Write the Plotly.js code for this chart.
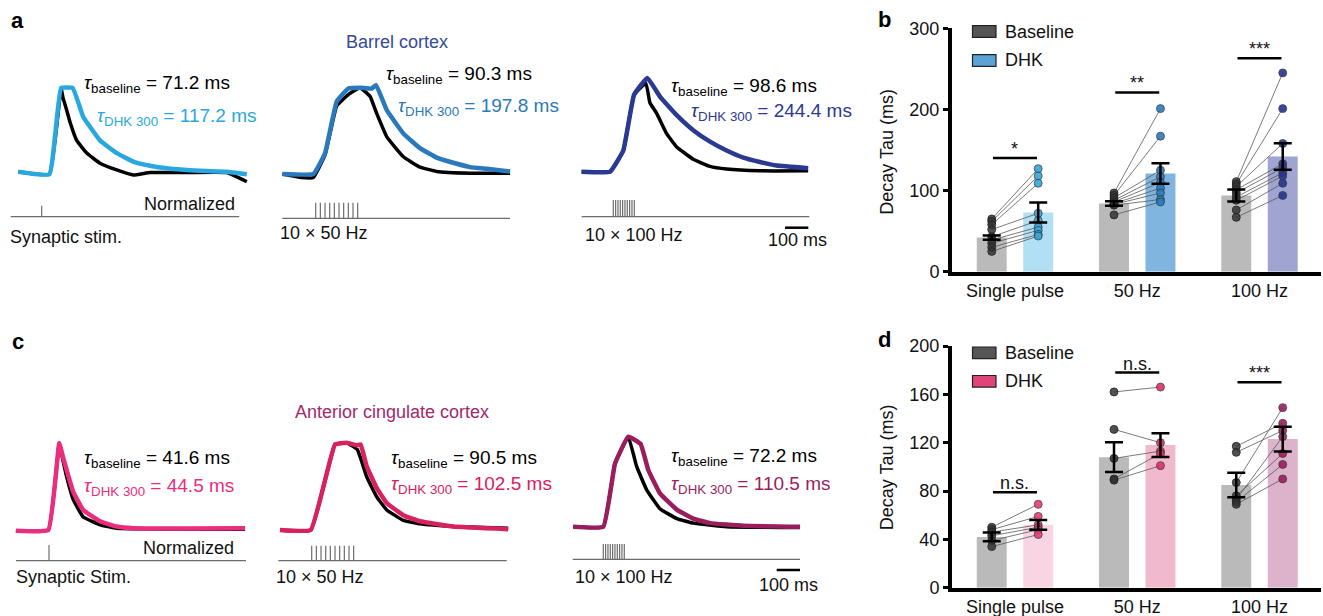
<!DOCTYPE html>
<html>
<head>
<meta charset="utf-8">
<script src="https://cdn.plot.ly/plotly-3.0.1.min.js"></script>
<style>html,body{margin:0;padding:0;background:#fff;}#chart{width:1323px;height:616px;}</style>
</head>
<body>
<div id="chart"></div>
<script>
// ---------------- DATA ----------------
// Panel a (barrel cortex) normalized traces: time (ms from first stimulus), normalized amplitude
const a1BaseT = [-100, 33, 83, 91, 107, 121, 150, 193, 250, 322, 393, 465, 593, 794, 880];
const a1BaseV = [0.01, -0.02, 1.0, 0.89, 0.74, 0.60, 0.38, 0.23, 0.11, 0.03, -0.03, 0, 0, 0, -0.11];
const a1DhkT  = [-100, 33, 83, 133, 178, 250, 322, 393, 465, 536, 679, 794, 880];
const a1DhkV  = [0.01, -0.02, 1.0, 1.0, 0.66, 0.38, 0.23, 0.13, 0.08, 0.05, 0.02, 0.01, -0.02];
const a2BaseT = [-143, -60, -10, 40, 90, 140, 190, 233, 262, 305, 376, 447, 519, 662, 834];
const a2BaseV = [0, -0.04, -0.04, 0.22, 0.79, 0.92, 1.0, 0.9, 0.70, 0.43, 0.20, 0.08, 0.03, 0.01, 0.01];
const a2DhkT  = [-143, -10, 40, 90, 140, 190, 240, 259, 305, 376, 447, 519, 590, 662, 734, 834];
const a2DhkV  = [0, 0, 0.24, 0.84, 0.99, 1.0, 0.99, 1.03, 0.74, 0.47, 0.30, 0.19, 0.13, 0.08, 0.06, 0.03];
const a3BaseT = [-136, -14, 43, 89, 140, 157, 186, 229, 272, 343, 415, 486, 629, 836];
const a3BaseV = [0, 0, 0.24, 0.87, 1.0, 0.78, 0.66, 0.43, 0.28, 0.14, 0.06, 0.03, 0.01, 0.01];
const a3DhkT  = [-136, -14, 43, 89, 146, 200, 272, 343, 415, 486, 558, 629, 701, 836];
const a3DhkV  = [0, 0, 0.24, 0.87, 1.06, 0.85, 0.64, 0.47, 0.34, 0.24, 0.16, 0.11, 0.07, 0.04];
// Panel c (anterior cingulate cortex)
const c1BaseT = [-142, -3, 44, 60, 76, 104, 147, 219, 290, 841];
const c1BaseV = [-0.01, 0, 1.0, 0.80, 0.61, 0.35, 0.15, 0.06, 0.02, 0.01];
const c1DhkT  = [-142, -3, 44, 60, 76, 104, 147, 219, 290, 362, 841];
const c1DhkV  = [-0.01, 0, 1.0, 0.84, 0.69, 0.44, 0.23, 0.10, 0.04, 0.02, 0.02];
const c2BaseT = [-136, -4, 100, 150, 196, 236, 279, 322, 393, 465, 607, 843];
const c2BaseV = [0, 0, 0.98, 1.0, 0.92, 0.61, 0.38, 0.23, 0.11, 0.07, 0.04, 0.02];
const c2DhkT  = [-136, -4, 100, 150, 193, 210, 236, 279, 322, 393, 465, 607, 843];
const c2DhkV  = [0, 0, 0.98, 1.0, 0.97, 0.98, 0.73, 0.48, 0.31, 0.17, 0.10, 0.04, 0.01];
const c3BaseT = [-129, 0, 50, 107, 143, 186, 243, 315, 386, 529, 844];
const c3BaseV = [0, 0, 0.70, 1.0, 0.67, 0.41, 0.20, 0.09, 0.04, 0, -0.01];
const c3DhkT  = [-129, 0, 50, 107, 160, 193, 243, 315, 386, 458, 601, 844];
const c3DhkV  = [0, 0, 0.70, 1.0, 0.92, 0.63, 0.37, 0.19, 0.09, 0.04, 0.01, 0];

// Stimulus times (ms)
const stimSingle = [0];
const stim50Hz  = [0, 20, 40, 60, 80, 100, 120, 140, 160, 180];
const stim100Hz = [0, 10, 20, 30, 40, 50, 60, 70, 80, 90];
const scaleBarMs = 100;

// Tau labels
const tauBaseBarrel = [71.2, 90.3, 98.6];
const tauDhkBarrel  = [117.2, 197.8, 244.4];
const tauBaseACC    = [41.6, 90.5, 72.2];
const tauDhkACC     = [44.5, 102.5, 110.5];
const stimLabelsA = ['Synaptic stim.', '10 × 50 Hz', '10 × 100 Hz'];
const stimLabelsC = ['Synaptic Stim.', '10 × 50 Hz', '10 × 100 Hz'];

// Bar panels
const categories = ['Single pulse', '50 Hz', '100 Hz'];
const seriesNames = ['Baseline', 'DHK'];
// panel b
const bBaseMean = [42, 84, 94];
const bBaseSem  = [2.5, 2.7, 7.4];
const bDhkMean  = [73, 121, 142];
const bDhkSem   = [12.3, 12.7, 16.2];
const bBasePts = [[65, 62, 58, 52, 43, 39, 35, 30, 25], [97, 94, 91, 88, 86, 84, 83, 82, 70], [111, 108, 105, 101, 97, 92, 88, 76, 67]];
const bDhkPts  = [[127, 118, 109, 72, 63, 55, 51, 46, 44], [201, 167, 125, 117, 110, 103, 97, 89, 86], [245, 201, 158, 133, 128, 122, 118, 109, 94]];
const bSigLevel = [140, 221, 263];
const bSigText  = ['*', '**', '***'];
// panel d
const dBaseMean = [42, 108, 85];
const dBaseSem  = [3.6, 12.3, 10.2];
const dDhkMean  = [52, 118, 123];
const dDhkSem   = [4.0, 9.8, 10.2];
const dBasePts = [[50, 48, 46, 43, 39, 34], [162, 131, 107, 90, 89], [117, 112, 87, 76, 73, 71, 69]];
const dDhkPts  = [[69, 59, 52, 50, 48, 44], [166, 120, 113, 111, 101], [136, 130, 149, 111, 125, 102, 90]];
const dSigLevel = [79, 178, 170];
const dSigText  = ['n.s.', 'n.s.', '***'];

// ---------------- LAYOUT HELPERS ----------------
const W = 1323, H = 616;
const PX = x => x / W;
const PY = y => 1 - y / H;
const MS_PER_PX = 4.29;
const FONT = 'Liberation Sans, Arial, Helvetica, sans-serif';
const FS = 18;

const barrelCol = ['#29a8e0', '#2a79bd', '#2c3990'];
const accCol    = ['#ec2c7c', '#d8215f', '#9a1e5d'];

const traceSP = [
  {k:1, x0:8,   x1:250, onset:41.7,  base:172.5, amp:84.5, top:50,  bot:250, stimX0:10.7,  stimX1:239.3, stimY:216.7, tickTop:205.7, stim:stimSingle, bt:a1BaseT, bv:a1BaseV, dt:a1DhkT, dv:a1DhkV, col:barrelCol[0]},
  {k:2, x0:278, x1:515, onset:315.7, base:174,   amp:86.3, top:50,  bot:250, stimX0:282.3, stimX1:510,   stimY:218.3, tickTop:202.7, stim:stim50Hz,  bt:a2BaseT, bv:a2BaseV, dt:a2DhkT, dv:a2DhkV, col:barrelCol[1]},
  {k:3, x0:578, x1:812, onset:613.3, base:171.7, amp:88.4, top:50,  bot:250, stimX0:581.7, stimX1:809.3, stimY:216.7, tickTop:200,   stim:stim100Hz, bt:a3BaseT, bv:a3BaseV, dt:a3DhkT, dv:a3DhkV, col:barrelCol[2], scale:{x:785, y:227.7}},
  {k:4, x0:12,  x1:250, onset:49,    base:530,   amp:86.7, top:400, bot:600, stimX0:16,    stimX1:246,   stimY:560.7, tickTop:545,   stim:stimSingle, bt:c1BaseT, bv:c1BaseV, dt:c1DhkT, dv:c1DhkV, col:accCol[0]},
  {k:5, x0:275, x1:512, onset:311.7, base:530,   amp:87.3, top:400, bot:600, stimX0:278.3, stimX1:506.7, stimY:560.7, tickTop:545.7, stim:stim50Hz,  bt:c2BaseT, bv:c2BaseV, dt:c2DhkT, dv:c2DhkV, col:accCol[1]},
  {k:6, x0:570, x1:804, onset:603.3, base:526.7, amp:90,   top:400, bot:600, stimX0:572.7, stimX1:800,   stimY:559.3, tickTop:544,   stim:stim100Hz, bt:c3BaseT, bv:c3BaseV, dt:c3DhkT, dv:c3DhkV, col:accCol[2], scale:{x:776.7, y:570}},
];

const data = [];
const layout = {
  width: W, height: H, margin: {l:0, r:0, t:0, b:0},
  paper_bgcolor: '#fff', plot_bgcolor: 'rgba(0,0,0,0)',
  showlegend: false, font: {family: FONT, size: FS, color: '#111'},
  annotations: [], shapes: []
};

traceSP.forEach(sp => {
  const xa = 'x' + sp.k, ya = 'y' + sp.k;
  const toMs = px => (px - sp.onset) * MS_PER_PX;
  const toV = py => (sp.base - py) / sp.amp;
  layout['xaxis' + sp.k] = {domain: [PX(sp.x0), PX(sp.x1)], range: [toMs(sp.x0), toMs(sp.x1)], visible: false, fixedrange: true, anchor: ya};
  layout['yaxis' + sp.k] = {domain: [PY(sp.bot), PY(sp.top)], range: [toV(sp.bot), toV(sp.top)], visible: false, fixedrange: true, anchor: xa};
  // stim line + ticks
  const sx = [toMs(sp.stimX0), toMs(sp.stimX1), null], sy = [toV(sp.stimY), toV(sp.stimY), null];
  sp.stim.forEach(t => { sx.push(t, t, null); sy.push(toV(sp.stimY), toV(sp.tickTop), null); });
  data.push({x: sx, y: sy, xaxis: xa, yaxis: ya, mode: 'lines', line: {color: '#6d6d6d', width: 1.2}, hoverinfo: 'skip'});
  data.push({x: sp.bt, y: sp.bv, xaxis: xa, yaxis: ya, mode: 'lines', line: {color: '#000', width: 3.5, shape: 'spline', smoothing: 0.3}, hoverinfo: 'skip'});
  data.push({x: sp.dt, y: sp.dv, xaxis: xa, yaxis: ya, mode: 'lines', line: {color: sp.col, width: 4.5, shape: 'spline', smoothing: 0.3}, hoverinfo: 'skip'});
  if (sp.scale) {
    const s0 = toMs(sp.scale.x);
    data.push({x: [s0, s0 + scaleBarMs], y: [toV(sp.scale.y), toV(sp.scale.y)], xaxis: xa, yaxis: ya, mode: 'lines', line: {color: '#000', width: 2.5}, hoverinfo: 'skip'});
  }
});

function ann(text, x, y, o) {
  o = o || {};
  layout.annotations.push(Object.assign({
    text: text, x: PX(x), y: PY(y), xref: 'paper', yref: 'paper', showarrow: false,
    xanchor: 'left', yanchor: 'middle', font: {family: FONT, size: FS, color: '#111'}
  }, o));
}
const tau = '<i>τ</i>';

// panel letters
ann('<b>a</b>', 9, 21, {font: {family: FONT, size: 22, color: '#000'}});
ann('<b>b</b>', 876, 20, {font: {family: FONT, size: 22, color: '#000'}});
ann('<b>c</b>', 10, 341, {font: {family: FONT, size: 22, color: '#000'}});
ann('<b>d</b>', 876, 339, {font: {family: FONT, size: 22, color: '#000'}});

ann('Barrel cortex', 396.7, 41.7, {xanchor: 'center', font: {family: FONT, size: 18, color: '#34499c'}});
ann('Anterior cingulate cortex', 391.7, 411.7, {xanchor: 'center', font: {family: FONT, size: 18, color: '#a3286c'}});

// tau labels
const TS = 19;
const tauPosA = [[82, 82, 95, 115], [384, 73, 395.7, 105], [669, 85, 689, 110]];
const tauPosC = [[82.3, 456.7, 82.3, 485], [389, 456.7, 389, 483.3], [669, 455, 669, 483.3]];
tauPosA.forEach((p, i) => {
  ann(tau + '<sub>baseline</sub> = ' + tauBaseBarrel[i].toFixed(1) + ' ms', p[0], p[1] + 2, {font: {family: FONT, size: TS, color: '#000'}});
  ann(tau + '<sub>DHK 300</sub> = ' + tauDhkBarrel[i].toFixed(1) + ' ms', p[2], p[3] + 2, {font: {family: FONT, size: TS, color: barrelCol[i]}});
});
tauPosC.forEach((p, i) => {
  ann(tau + '<sub>baseline</sub> = ' + tauBaseACC[i].toFixed(1) + ' ms', p[0], p[1] + 2, {font: {family: FONT, size: TS, color: '#000'}});
  ann(tau + '<sub>DHK 300</sub> = ' + tauDhkACC[i].toFixed(1) + ' ms', p[2], p[3] + 2, {font: {family: FONT, size: TS, color: accCol[i]}});
});

// stim labels
const stimLabPosA = [[8, 237], [278, 233], [583, 235]];
const stimLabPosC = [[14, 577], [274, 577], [573, 577]];
stimLabPosA.forEach((p, i) => ann(stimLabelsA[i], p[0], p[1], {font: {family: FONT, size: FS, color: '#111'}}));
stimLabPosC.forEach((p, i) => ann(stimLabelsC[i], p[0], p[1], {font: {family: FONT, size: FS, color: '#111'}}));
ann('Normalized', 237, 204, {xanchor: 'right', font: {family: FONT, size: FS, color: '#111'}});
ann('Normalized', 236, 548, {xanchor: 'right', font: {family: FONT, size: FS, color: '#111'}});
ann(scaleBarMs + ' ms', 797.5, 240, {xanchor: 'center', font: {family: FONT, size: FS, color: '#111'}});
ann(scaleBarMs + ' ms', 788, 585, {xanchor: 'center', font: {family: FONT, size: FS, color: '#111'}});

// ---------------- BAR PANELS ----------------
const GROUP_OFF = 0.19, BAR_W = 0.245;
const barSP = [
  {k:7, top:28.3, bot:271.7, ymax:300, tick:[0,100,200,300], baseMean:bBaseMean, baseSem:bBaseSem, dhkMean:bDhkMean, dhkSem:bDhkSem, basePts:bBasePts, dhkPts:bDhkPts, sig:bSigLevel, sigText:bSigText,
   dhkBar:['#b1dff4', '#7fb5de', '#9fa4d0'], dhkDot:['#36a6dd', '#2a7cc0', '#27348f'], legendCol:'#5aa3d6', legY:[31.5, 60.5], titleY:151.7},
  {k:8, top:346, bot:587.7, ymax:200, tick:[0,40,80,120,160,200], baseMean:dBaseMean, baseSem:dBaseSem, dhkMean:dDhkMean, dhkSem:dDhkSem, basePts:dBasePts, dhkPts:dDhkPts, sig:dSigLevel, sigText:dSigText,
   dhkBar:['#f9d5e4', '#f1b9cd', '#dcb3cb'], dhkDot:['#e93a79', '#e02f6b', '#9d1c60'], legendCol:'#e0457a', legY:[352.8, 381.3], titleY:467.3},
];
barSP.forEach(bp => {
  const xa = 'x' + bp.k, ya = 'y' + bp.k;
  layout['xaxis' + bp.k] = {domain: [PX(952), PX(1321)], range: [-0.515, 2.503], anchor: ya, fixedrange: true,
    tickvals: [0, 1, 2], ticktext: categories, ticks: '', showline: true, linewidth: 4, linecolor: '#000',
    showgrid: false, zeroline: false, tickfont: {family: FONT, size: FS, color: '#111'}};
  layout['yaxis' + bp.k] = {domain: [PY(bp.bot), PY(bp.top)], range: [0, bp.ymax], anchor: xa, fixedrange: true,
    tickvals: bp.tick, ticks: 'outside', ticklen: 5, tickwidth: 3, tickcolor: '#000', showline: true, linewidth: 4, linecolor: '#000',
    showgrid: false, zeroline: false, tickfont: {family: FONT, size: FS, color: '#111'}};
  const idx = categories.map((c, i) => i);
  data.push({type: 'bar', x: idx.map(i => i - GROUP_OFF), y: bp.baseMean, width: BAR_W, xaxis: xa, yaxis: ya, name: seriesNames[0],
    textposition: 'none', marker: {color: '#bababa', line: {width: 0}}, hoverinfo: 'skip'});
  data.push({type: 'bar', x: idx.map(i => i + GROUP_OFF), y: bp.dhkMean, width: BAR_W, xaxis: xa, yaxis: ya, name: seriesNames[1],
    textposition: 'none', marker: {color: bp.dhkBar, line: {width: 0}}, hoverinfo: 'skip'});
  // paired lines
  const lx = [], ly = [];
  idx.forEach(i => bp.basePts[i].forEach((v, j) => { lx.push(i - GROUP_OFF, i + GROUP_OFF, null); ly.push(v, bp.dhkPts[i][j], null); }));
  data.push({x: lx, y: ly, xaxis: xa, yaxis: ya, mode: 'lines', line: {color: 'rgba(90,90,90,0.8)', width: 1}, hoverinfo: 'skip'});
  // dots
  const bx = [], by = [], dx = [], dy = [], dc = [];
  idx.forEach(i => {
    bp.basePts[i].forEach(v => { bx.push(i - GROUP_OFF); by.push(v); });
    bp.dhkPts[i].forEach(v => { dx.push(i + GROUP_OFF); dy.push(v); dc.push(bp.dhkDot[i]); });
  });
  data.push({x: bx, y: by, xaxis: xa, yaxis: ya, mode: 'markers', marker: {color: 'rgba(50,50,50,0.85)', size: 8, line: {color: '#222', width: 0.8}}, hoverinfo: 'skip'});
  data.push({x: dx, y: dy, xaxis: xa, yaxis: ya, mode: 'markers', marker: {color: dc, size: 8, opacity: 0.9, line: {color: '#333', width: 0.8}}, hoverinfo: 'skip'});
  // error bars (mean ± SEM)
  data.push({x: idx.map(i => i - GROUP_OFF), y: bp.baseMean, xaxis: xa, yaxis: ya, mode: 'markers', marker: {size: 0.1, color: 'rgba(0,0,0,0)'},
    error_y: {type: 'data', array: bp.baseSem, color: '#000', thickness: 2.5, width: 9}, hoverinfo: 'skip'});
  data.push({x: idx.map(i => i + GROUP_OFF), y: bp.dhkMean, xaxis: xa, yaxis: ya, mode: 'markers', marker: {size: 0.1, color: 'rgba(0,0,0,0)'},
    error_y: {type: 'data', array: bp.dhkSem, color: '#000', thickness: 2.5, width: 9}, hoverinfo: 'skip'});
  // significance lines
  const sx = [], sy = [];
  idx.forEach(i => { sx.push(i - 0.18, i + 0.18, null); sy.push(bp.sig[i], bp.sig[i], null);
    layout.annotations.push({text: bp.sigText[i], x: i, y: bp.sig[i], xref: xa, yref: ya, showarrow: false, xanchor: 'center', yanchor: 'bottom', yshift: -3,
      font: {family: FONT, size: FS, color: '#111'}}); });
  data.push({x: sx, y: sy, xaxis: xa, yaxis: ya, mode: 'lines', line: {color: '#000', width: 2.5}, hoverinfo: 'skip'});
  // legend
  const sw = [['#555555', bp.legY[0]], [bp.legendCol, bp.legY[1]]];
  sw.forEach((s, j) => {
    layout.shapes.push({type: 'rect', xref: 'paper', yref: 'paper', x0: PX(972.5), x1: PX(996), y0: PY(s[1] - 5.8), y1: PY(s[1] + 5.8),
      fillcolor: s[0], line: {color: '#222', width: 1.2}});
    ann(seriesNames[j], 1003, s[1], {font: {family: FONT, size: FS, color: '#111'}});
  });
  ann('Decay Tau (ms)', 887, bp.titleY, {xanchor: 'center', textangle: -90, font: {family: FONT, size: FS, color: '#111'}});
});

Plotly.newPlot('chart', data, layout, {staticPlot: true, displayModeBar: false}).then(gd => {
  // drop empty placeholder text nodes left by hidden axes / bars
  gd.querySelectorAll('text').forEach(t => { if (!t.textContent.trim()) t.remove(); });
});
</script>
</body>
</html>
